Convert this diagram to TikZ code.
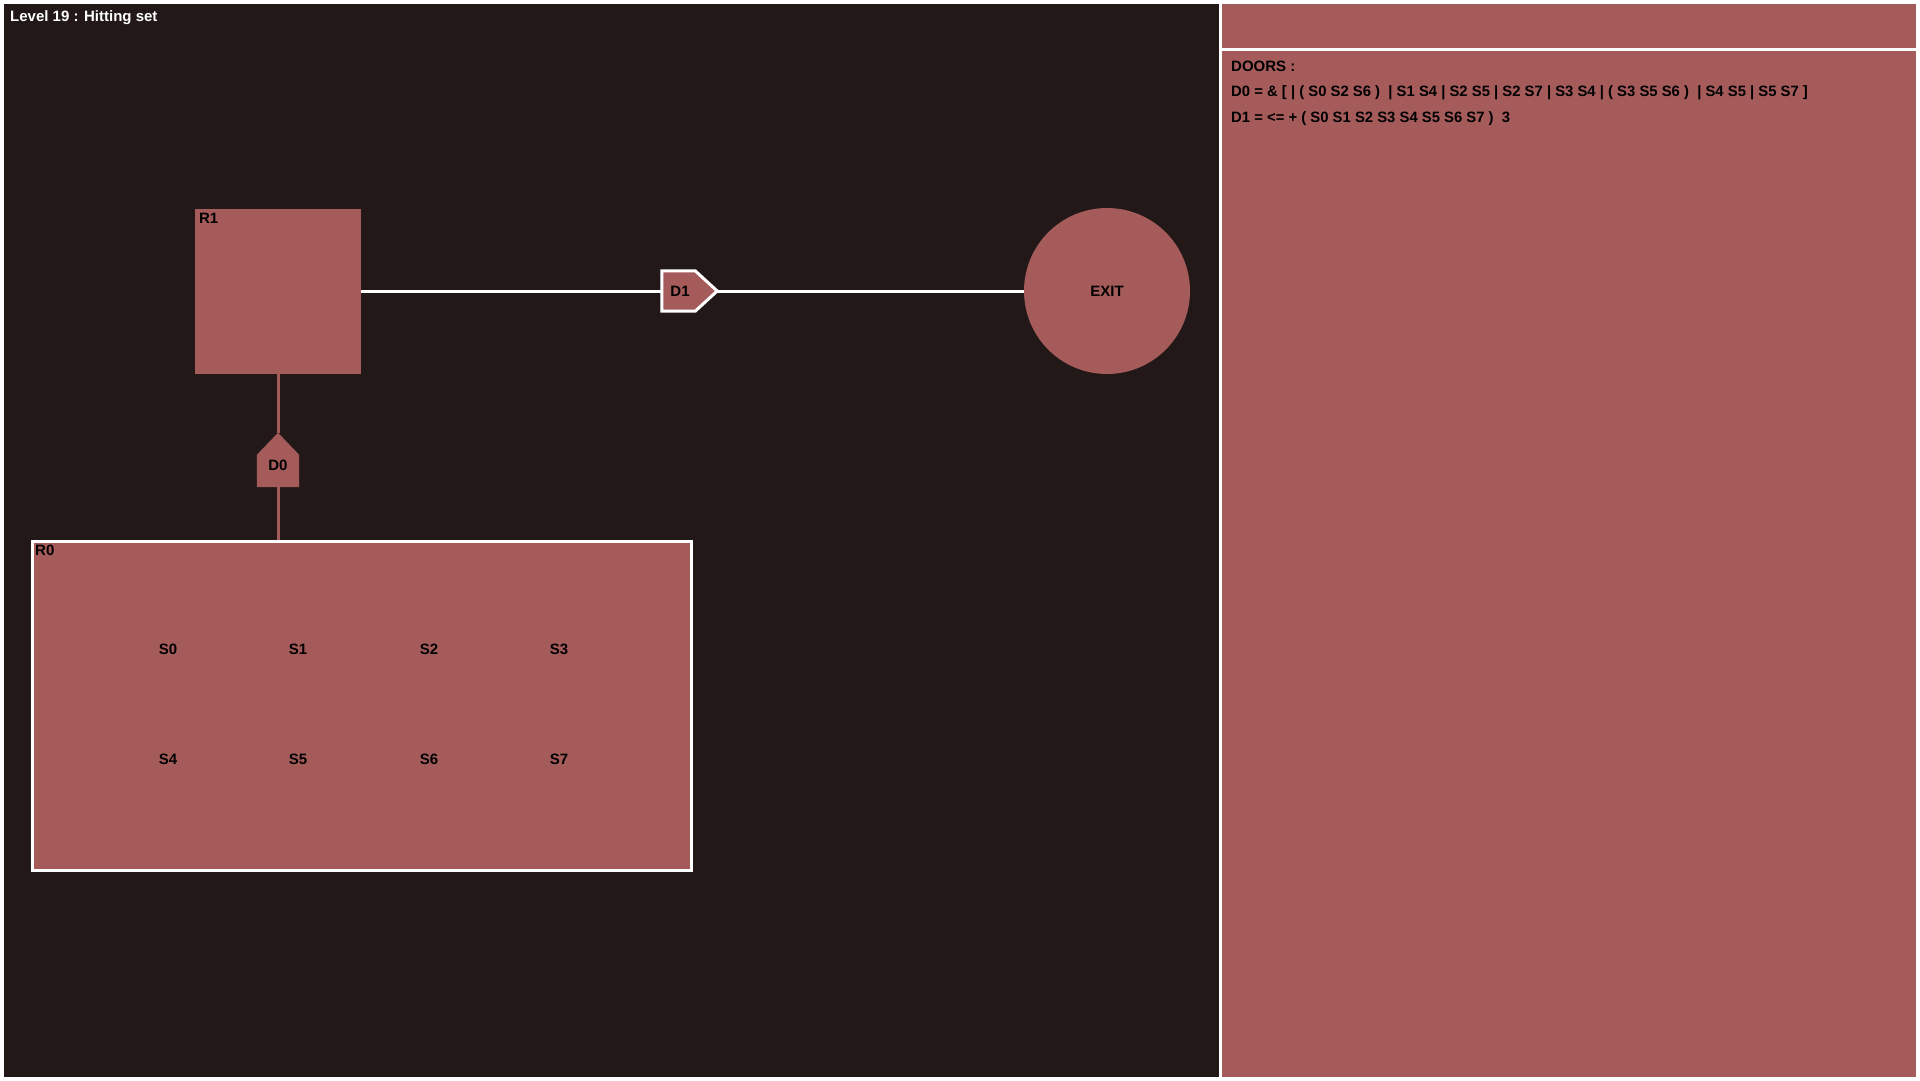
\documentclass[tikz,border=0pt]{standalone}
\usepackage{fontspec}
\setmainfont{Liberation Sans}
\usetikzlibrary{calc}
\definecolor{bgdark}{RGB}{35,24,24}
\definecolor{roomred}{RGB}{166,91,91}
\begin{document}
\begin{tikzpicture}[x=1pt,y=-1pt,
  every node/.style={font=\bfseries\fontsize{15}{18}\selectfont, inner sep=0pt, text=black},
  room/.style={fill=roomred, draw=none},
  label/.style={anchor=north west},
  passage/.style={draw=white, line width=3pt},
  redpassage/.style={draw=roomred, line width=3pt},
  doorbox/.style={minimum width=33pt, minimum height=40pt},
  listline/.style={anchor=base west},
]
% canvas and panels
\fill[white] (0,0) rectangle (1920,1080);
\useasboundingbox (0,0) rectangle (1920,1080);
\fill[bgdark] (4,4) rectangle (1219,1077);
\fill[roomred] (1222,4) rectangle (1916,48);
\fill[roomred] (1222,51) rectangle (1916,1077);

\node[anchor=base west, text=white] (title) at (10,21.5) {Level 19 : Hitting set};

% rooms
\node[room, minimum width=166pt, minimum height=165pt] (R1) at (278,291) {};
\node[label] (R1lab) at ($(R1.north west)+(4,5)$) {R1};

\node[room, draw=white, line width=3pt, minimum width=659pt, minimum height=329pt] (R0) at (362,706) {};
\node[label] (R0lab) at ($(R0.north west)+(4,5)$) {R0};

\node[room, circle, minimum size=166pt] (EXIT) at (1107,291) {EXIT};

% switches inside R0
\foreach \i/\x/\y in {0/168/649, 1/298/649, 2/429/649, 3/559/649,
                      4/168/759, 5/298/759, 6/429/759, 7/559/759}
  \node (S\i) at (\x,\y) {S\i};

% door D1 (points east)
\node[doorbox] (D1) at (678.5,291) {D1};
\coordinate (D1tip) at ($(D1.east)+(22,0)$);
\draw[fill=roomred, draw=white, line width=3pt, line join=miter]
  (D1.north west) -- (D1.north east) -- (D1tip) -- (D1.south east) -- (D1.south west) -- cycle;
\node at ($(D1)+(1.5,0)$) {D1};

% door D0 (points north)
\node[minimum width=42pt, minimum height=32pt, text depth=11pt] (D0) at (278,471) {D0};
\coordinate (D0tip) at ($(D0.north)+(0,-22)$);
\fill[roomred] (D0.south west) -- (D0.north west) -- (D0tip) -- (D0.north east) -- (D0.south east) -- cycle;
\node[minimum width=42pt, minimum height=32pt, text depth=11pt] at (D0) {D0};

% passages
\draw[passage] (R1.east) -- (D1.west);
\draw[passage] (D1tip) -- (EXIT.west);
\draw[redpassage] (R1.south) -- (D0tip);
\draw[redpassage] (D0.south) -- (D0.south |- R0.north);

% door list
\node[listline] (doors) at (1231,71.5) {DOORS :};
\node[listline] (doorD0) at (1231,96.5) {\scalebox{0.99}[1]{D0 = \& [ | ( S0 S2 S6 )\ \ | S1 S4 | S2 S5 | S2 S7 | S3 S4 | ( S3 S5 S6 )\ \ | S4 S5 | S5 S7 ]}};
\node[listline] (doorD1) at (1231,122) {\scalebox{0.99}[1]{D1 = <= + ( S0 S1 S2 S3 S4 S5 S6 S7 )\ \ 3}};
\end{tikzpicture}
\end{document}
